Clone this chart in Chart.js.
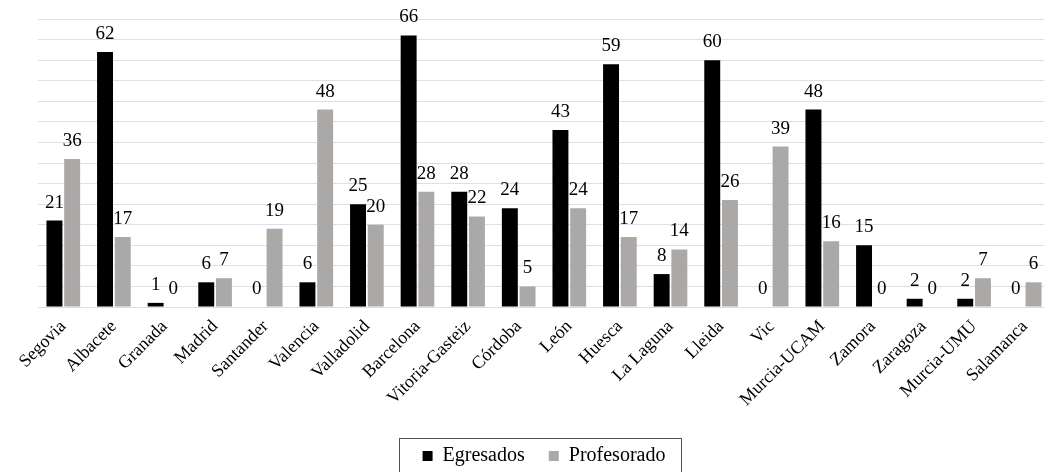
<!DOCTYPE html>
<html><head><meta charset="utf-8">
<script src="https://cdn.jsdelivr.net/npm/chart.js@4.4.1/dist/chart.umd.min.js"></script>
<style>
html,body{margin:0;padding:0;overflow:hidden;background:#fff;width:1044px;height:472px}
#wrap{position:absolute;left:0;top:0;width:1052px;height:472px}
</style>
</head><body>
<div id="wrap"><canvas id="c" width="1052" height="472"></canvas></div>
<script>
const categories = ["Segovia","Albacete","Granada","Madrid","Santander","Valencia","Valladolid","Barcelona","Vitoria-Gasteiz","Córdoba","León","Huesca","La Laguna","Lleida","Vic","Murcia-UCAM","Zamora","Zaragoza","Murcia-UMU","Salamanca"];
const egresados = [21,62,1,6,0,6,25,66,28,24,43,59,8,60,0,48,15,2,2,0];
const profesorado = [36,17,0,7,19,48,20,28,22,5,24,17,14,26,39,16,0,0,7,6];
const seriesNames = ["Egresados","Profesorado"];
const yMin = 0, yMax = 70, yStep = 5;

const FONT = '"Liberation Serif", "Times New Roman", serif';
Chart.defaults.font.family = FONT;
Chart.defaults.color = '#000';

const valueLabels = {
  id: 'valueLabels',
  afterDatasetsDraw(chart) {
    const ctx = chart.ctx;
    ctx.save();
    ctx.font = '19px ' + FONT;
    ctx.fillStyle = '#000';
    ctx.textAlign = 'center';
    ctx.textBaseline = 'alphabetic';
    chart.data.datasets.forEach((ds, i) => {
      const meta = chart.getDatasetMeta(i);
      meta.data.forEach((bar, j) => {
        ctx.fillText(String(ds.data[j]), bar.x, bar.y - 13);
      });
    });
    ctx.restore();
  }
};

const legendBox = {
  id: 'legendBox',
  afterDraw(chart) {
    const lg = chart.legend;
    if (!lg || !lg.legendHitBoxes || !lg.legendHitBoxes.length) return;
    const hb = lg.legendHitBoxes;
    const left = Math.round(hb[0].left - 24) + 0.5;
    const last = hb[hb.length - 1];
    const right = Math.round(last.left + last.width + 16) + 0.5;
    const ctx = chart.ctx;
    ctx.save();
    ctx.strokeStyle = '#505050';
    ctx.lineWidth = 1;
    ctx.strokeRect(left, 438.5, right - left, 60);
    ctx.restore();
  }
};

new Chart(document.getElementById('c'), {
  type: 'bar',
  data: {
    labels: categories,
    datasets: [
      { label: seriesNames[0], data: egresados, backgroundColor: '#000000', categoryPercentage: 0.7, barPercentage: 0.9 },
      { label: seriesNames[1], data: profesorado, backgroundColor: '#aba8a8', categoryPercentage: 0.7, barPercentage: 0.9 }
    ]
  },
  options: {
    responsive: false,
    animation: false,
    layout: { padding: { left: 38, right: 2, top: 19, bottom: -4 } },
    plugins: {
      tooltip: { enabled: false },
      legend: {
        position: 'bottom',
        labels: {
          boxWidth: 10, boxHeight: 10, padding: 24,
          color: '#000',
          font: { family: FONT, size: 20 }
        }
      }
    },
    scales: {
      x: {
        grid: { display: false },
        border: { display: false },
        ticks: {
          color: '#000',
          font: { family: FONT, size: 18 },
          minRotation: 45, maxRotation: 45,
          padding: 1,
          autoSkip: false
        },
        afterFit(scale) { scale.height = 115; }
      },
      y: {
        min: yMin, max: yMax,
        grid: { color: '#dcdfe7', drawTicks: false },
        border: { display: false },
        ticks: { display: false, stepSize: yStep }
      }
    }
  },
  plugins: [valueLabels, legendBox]
});
</script>
</body></html>
